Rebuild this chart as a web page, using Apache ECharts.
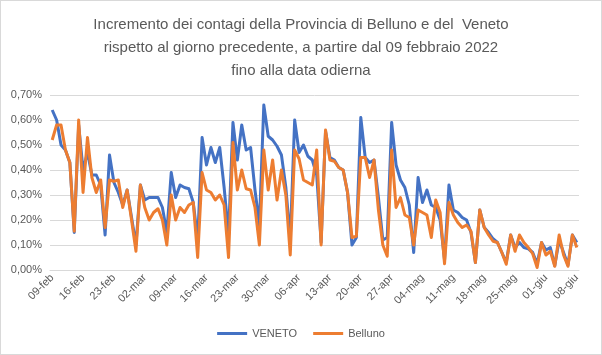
<!DOCTYPE html>
<html><head><meta charset="utf-8">
<script src="https://cdn.jsdelivr.net/npm/echarts@6/dist/echarts.min.js"></script>
<style>html,body{margin:0;padding:0;background:#fff}#c{width:600px;height:353px;border:1px solid #d9d9d9}</style>
</head><body><div id="c"></div>
<script>
const startDate = [2022, 2, 9]; // 09 feb 2022 (month 1-based)
const dayCount = 120;
const monthNames = ['gen','feb','mar','apr','mag','giu','lug','ago','set','ott','nov','dic'];
const seriesNames = ['VENETO', 'Belluno'];
const yTicks = [0, 0.1, 0.2, 0.3, 0.4, 0.5, 0.6, 0.7];
const titleLines = [
  'Incremento dei contagi della Provincia di Belluno e del  Veneto',
  'rispetto al giorno precedente, a partire dal 09 febbraio 2022',
  'fino alla data odierna'
];
const veneto = [
  0.64,0.60,0.50,0.48,0.43,0.15,0.58,0.40,0.47,0.38,
  0.38,0.34,0.14,0.46,0.35,0.31,0.26,0.32,0.21,0.10,
  0.34,0.28,0.29,0.29,0.29,0.25,0.15,0.39,0.29,0.34,
  0.33,0.325,0.27,0.12,0.53,0.42,0.49,0.43,0.49,0.33,
  0.14,0.59,0.44,0.58,0.48,0.49,0.32,0.18,0.66,0.535,
  0.52,0.495,0.46,0.33,0.12,0.60,0.47,0.50,0.455,0.44,
  0.38,0.11,0.555,0.45,0.44,0.41,0.40,0.31,0.10,0.13,
  0.61,0.45,0.43,0.44,0.29,0.12,0.13,0.59,0.42,0.36,
  0.33,0.26,0.07,0.37,0.27,0.32,0.26,0.25,0.20,0.04,
  0.34,0.24,0.23,0.21,0.20,0.15,0.03,0.24,0.17,0.15,
  0.125,0.11,0.07,0.03,0.14,0.09,0.11,0.09,0.085,0.07,
  0.025,0.11,0.08,0.09,0.017,0.12,0.07,0.02,0.14,0.11
];
const belluno = [
  0.52,0.58,0.58,0.48,0.43,0.155,0.60,0.31,0.53,0.37,
  0.31,0.36,0.17,0.36,0.355,0.36,0.25,0.32,0.20,0.075,
  0.34,0.25,0.20,0.23,0.245,0.20,0.10,0.30,0.20,0.25,
  0.23,0.26,0.27,0.05,0.39,0.32,0.31,0.28,0.30,0.26,
  0.05,0.51,0.32,0.40,0.325,0.32,0.25,0.10,0.48,0.32,
  0.44,0.28,0.40,0.30,0.06,0.48,0.445,0.36,0.35,0.34,
  0.48,0.10,0.56,0.44,0.435,0.41,0.40,0.31,0.13,0.135,
  0.45,0.45,0.37,0.44,0.24,0.10,0.055,0.48,0.25,0.29,
  0.22,0.21,0.10,0.24,0.23,0.22,0.13,0.28,0.23,0.025,
  0.27,0.22,0.19,0.17,0.18,0.155,0.03,0.24,0.17,0.14,
  0.115,0.11,0.07,0.023,0.14,0.075,0.14,0.11,0.09,0.065,
  0.01,0.11,0.06,0.075,0.015,0.14,0.06,0.015,0.14,0.09
];
const categories = [];
for (let i = 0; i < dayCount; i++) {
  const d = new Date(startDate[0], startDate[1] - 1, startDate[2] + i);
  categories.push(String(d.getDate()).padStart(2, '0') + '-' + monthNames[d.getMonth()]);
}
const txt = '#595959';
const chart = echarts.init(document.getElementById('c'));
chart.setOption({
  animation: false,
  color: ['#4472C4', '#ED7D31'],
  title: {
    text: titleLines.join('\n'), left: 'center', top: 7,
    textStyle: { fontFamily: 'Liberation Sans', fontSize: 15, fontWeight: 'normal', color: txt, lineHeight: 23 }
  },
  legend: {
    data: seriesNames, bottom: 10, left: 'center', icon: 'rect', itemWidth: 30, itemHeight: 3, itemGap: 16,
    textStyle: { fontFamily: 'Liberation Sans', fontSize: 11, color: txt }
  },
  grid: { left: 49, right: 22, top: 94, bottom: 84, containLabel: false },
  xAxis: {
    type: 'category', data: categories, boundaryGap: true,
    axisLine: { lineStyle: { color: '#d9d9d9' } },
    axisTick: { interval: 6, length: 5, lineStyle: { color: '#d9d9d9' } },
    axisLabel: { interval: 6, rotate: 45, color: txt, fontFamily: 'Liberation Sans', fontSize: 11, margin: 6 }
  },
  yAxis: {
    type: 'value', min: yTicks[0], max: yTicks[yTicks.length - 1], interval: 0.1,
    axisLine: { show: false }, axisTick: { show: false },
    splitLine: { lineStyle: { color: '#d9d9d9' } },
    axisLabel: { color: txt, fontFamily: 'Liberation Sans', fontSize: 11, margin: 8,
      formatter: v => v.toFixed(2).replace('.', ',') + '%' }
  },
  series: [
    { name: seriesNames[0], type: 'line', data: veneto, symbol: 'none', lineStyle: { width: 3, join: 'round' } },
    { name: seriesNames[1], type: 'line', data: belluno, symbol: 'none', lineStyle: { width: 3, join: 'round' } }
  ]
});
</script></body></html>
